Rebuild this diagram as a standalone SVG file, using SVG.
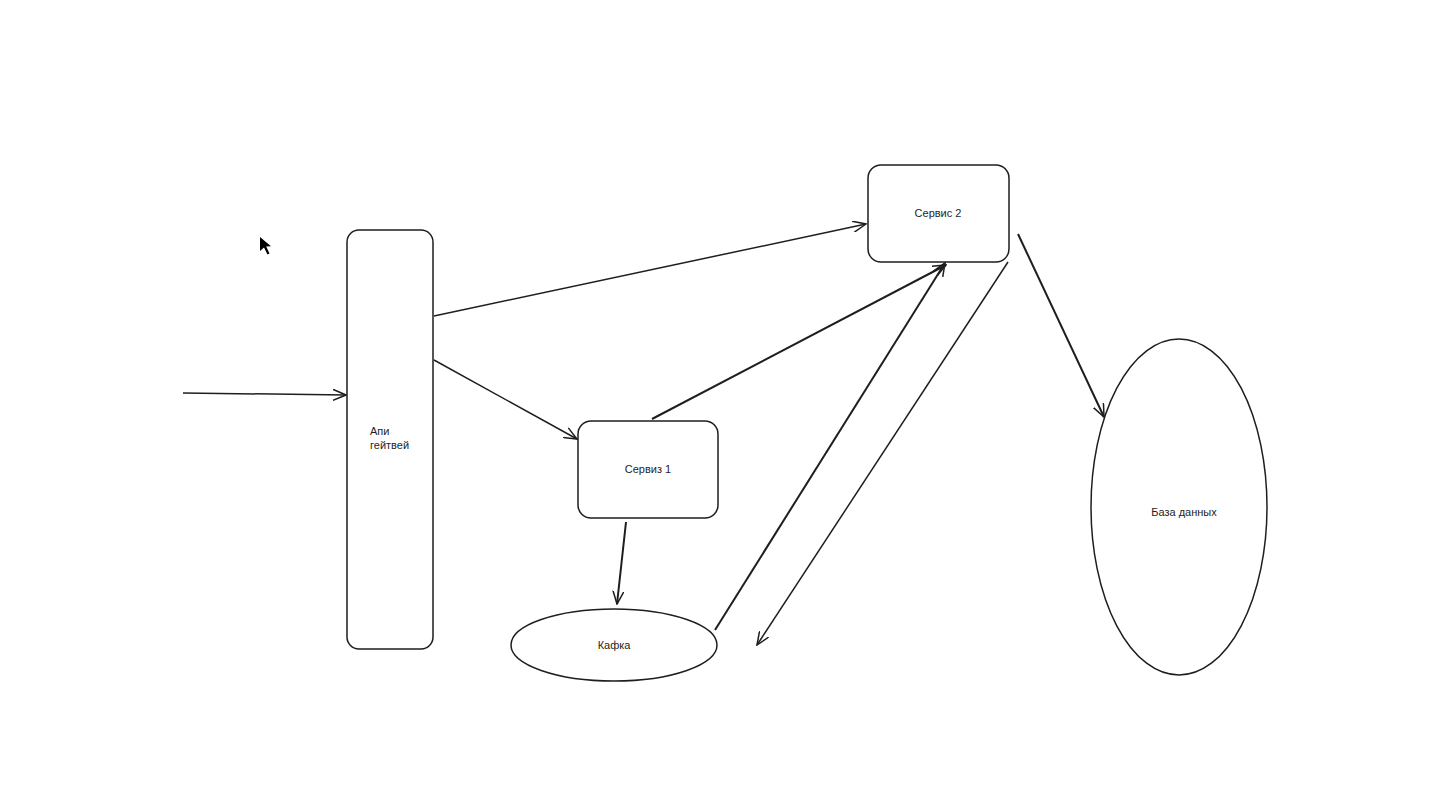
<svg xmlns="http://www.w3.org/2000/svg" width="1440" height="810" viewBox="0 0 1440 810">
<style>
.node{fill:#ffffff;stroke:#1e1e1e;stroke-width:1.5}
.lbl{font-family:"Liberation Sans","DejaVu Sans",sans-serif;font-size:11px;fill:#1e1e1e}
.edge{fill:none;stroke:#1e1e1e;stroke-width:1.5;marker-end:url(#arr)}
.thick{stroke-width:2}
</style>
<defs>
<marker id="arr" markerUnits="userSpaceOnUse" viewBox="0 0 14 12" markerWidth="14" markerHeight="12" refX="13" refY="6" orient="auto">
<path d="M0,0.5 L13,6 L0,11.5" fill="none" stroke="#1e1e1e" stroke-width="1.5"/>
</marker>
</defs>
<rect width="1440" height="810" fill="#ffffff"/>
<path d="M260,237 L260,251 L264,247.5 L267.5,254.5 L269.5,253.5 L266.2,246.6 L271,246.3 Z" fill="#000000"/>
<g id="connectors">
<path class="edge" d="M183,393 L346,395"/>
<path class="edge" d="M434,316 L866,224"/>
<path class="edge" d="M434,360 L577,439"/>
<path class="edge thick" d="M652,419 L946,265"/>
<path class="edge thick" d="M715,630 L945,263"/>
<path class="edge" d="M1008,262 L757,645"/>
<path class="edge thick" d="M1018,234 L1104,417"/>
<path class="edge thick" d="M626,522 L617,604"/>
</g>
<g id="api-gateway">
<rect class="node" x="347" y="230" width="86" height="419" rx="12"/>
<text class="lbl" x="370" y="435">Апи</text>
<text class="lbl" x="370" y="449">гейтвей</text>
</g>
<g id="service2">
<rect class="node" x="868" y="165" width="141" height="97" rx="13"/>
<text class="lbl" x="938" y="217" text-anchor="middle">Сервис 2</text>
</g>
<g id="service1">
<rect class="node" x="578" y="421" width="140" height="97" rx="13"/>
<text class="lbl" x="648" y="473" text-anchor="middle">Сервиз 1</text>
</g>
<g id="kafka">
<ellipse class="node" cx="614" cy="645" rx="103" ry="36"/>
<text class="lbl" x="614" y="649" text-anchor="middle">Кафка</text>
</g>
<g id="database">
<ellipse class="node" cx="1179" cy="507" rx="88" ry="168"/>
<text class="lbl" x="1184" y="516" text-anchor="middle">База данных</text>
</g>
</svg>
